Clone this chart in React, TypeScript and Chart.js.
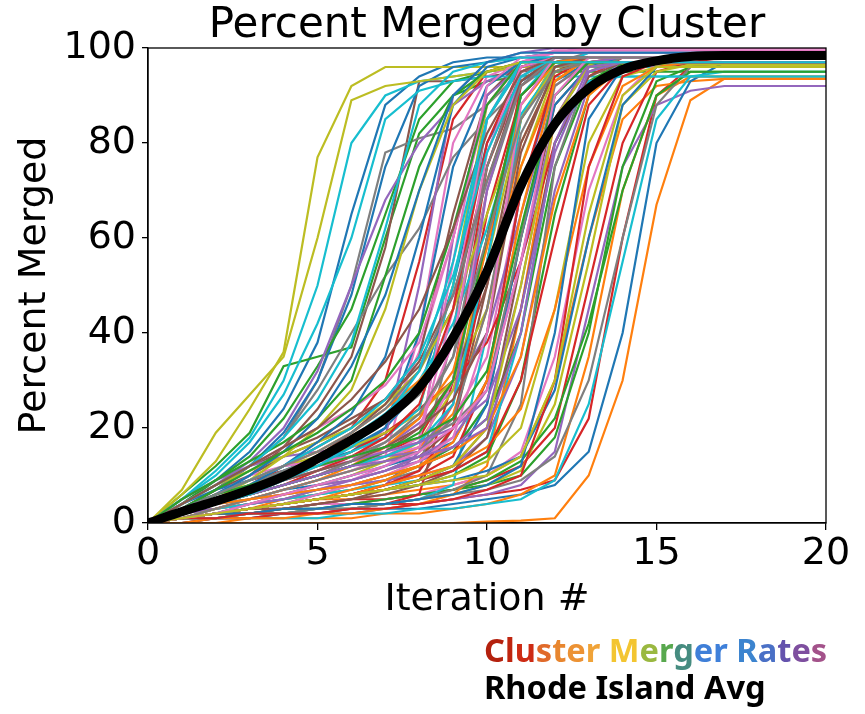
import React, { useEffect, useRef } from "react";
import { Chart, registerables } from "chart.js";

Chart.register(...registerables);

const TITLE = "Percent Merged by Cluster";
const X_LABEL = "Iteration #";
const Y_LABEL = "Percent Merged";
const ITERATIONS = [0, 1, 2, 3, 4, 5, 6, 7, 8, 9, 10, 11, 12, 13, 14, 15, 16, 17, 18, 19, 20];
const X_TICK_STEP = 5;
const Y_TICK_STEP = 20;

const TAB10 = ["#1f77b4", "#ff7f0e", "#2ca02c", "#d62728", "#9467bd", "#8c564b", "#e377c2", "#7f7f7f", "#bcbd22", "#17becf"];

const C01 = [0, 4, 9, 15, 24, 38, 65, 88, 94, 97, 98, 98, 99, 99, 99, 99, 99, 99, 99, 99, 99];
const C02 = [0, 0, 0, 0, 0, 0, 0, 0, 0, 0, 0.3, 0.5, 1, 10, 30, 67, 89, 93.5, 93.5, 93.5, 93.5];
const C03 = [0, 6, 12, 19, 33, 35, 37, 60, 82, 90, 93, 94, 95, 95, 95, 95, 95, 95, 95, 95, 95];
const C04 = [0, 1, 1, 2, 2, 3, 3, 4, 4, 5, 6, 7, 9, 22, 60, 90, 96, 97, 97, 97, 97];
const C05 = [0, 0, 1, 1, 2, 2, 3, 3, 4, 5, 6, 8, 15, 45, 75, 88, 91, 92, 92, 92, 92];
const C06 = [0, 3, 6, 10, 16, 24, 35, 58, 93, 93, 94, 95, 96, 97, 97, 97, 97, 97, 97, 97, 97];
const C07 = [0, 2, 4, 6, 8, 10, 13, 20, 36, 60, 90, 97, 98, 98, 98, 98, 98, 98, 98, 98, 98];
const C08 = [0, 3, 7, 12, 18, 30, 50, 78, 81, 83, 88, 95, 97, 99, 99, 99, 99, 99, 99, 99, 99];
const C09 = [0, 6, 13, 24, 36, 77, 92, 96, 96, 96, 96, 96, 97, 97, 97, 97, 97, 97, 97, 97, 97];
const C10 = [0, 5, 11, 18, 30, 50, 80, 90, 93, 94, 95, 96, 96, 96, 96, 96, 96, 96, 96, 96, 96];
const C11 = [0, 3, 7, 12, 19, 30, 48, 75, 92, 96, 97, 98, 99, 100, 100, 100, 100, 100, 100, 100, 100];
const C12 = [0, 1, 2, 3, 4, 5, 5, 6, 7, 8, 10, 14, 30, 60, 85, 92, 93, 93.5, 93.5, 93.5, 93.5];
const C13 = [0, 4, 9, 14, 22, 33, 45, 65, 85, 93, 95, 96, 97, 97, 97, 97, 97, 97, 97, 97, 97];
const C14 = [0, 3, 6, 9, 12, 16, 20, 30, 55, 85, 95, 97, 98, 98, 98, 98, 98, 98, 98, 98, 98];
const C15 = [0, 4, 8, 13, 20, 32, 50, 68, 80, 88, 93, 96, 97, 98, 98, 98, 98, 98, 98, 98, 98];
const C16 = [0, 4, 8, 12, 15, 18, 22, 26, 35, 65, 90, 97, 98, 98, 98, 98, 98, 98, 98, 98, 98];
const C17 = [0, 2, 4, 6, 8, 10, 12, 14, 40, 80, 94, 97, 99, 100, 100, 100, 100, 100, 100, 100, 100];
const C18 = [0, 3, 7, 12, 18, 28, 40, 52, 62, 77, 85, 92, 97, 98, 98, 98, 98, 98, 98, 98, 98];
const C19 = [0, 7, 19, 27, 35, 60, 89, 92, 93, 94, 95, 96, 96, 96.5, 96.5, 96.5, 96.5, 96.5, 96.5, 96.5, 96.5];
const C20 = [0, 5, 10, 17, 27, 42, 60, 85, 91, 93, 94, 94, 94, 94, 94, 94, 94, 94, 94, 94, 94];
const C21 = [0, 1, 1, 1, 2, 2, 2, 3, 3, 4, 5, 6, 8, 15, 40, 80, 93, 97, 97, 97, 97];
const C22 = [0, 0, 0, 1, 1, 1, 1, 2, 2, 3, 4, 6, 10, 35, 70, 90, 94, 94, 94, 94, 94];
const C23 = [0, 1, 1, 2, 3, 4, 4, 5, 6, 7, 8, 10, 18, 40, 75, 93, 96, 96, 96, 96, 96];
const C24 = [0, 1, 2, 3, 3, 4, 5, 5, 6, 7, 9, 12, 20, 50, 80, 95, 97, 98, 98, 98, 98];
const C25 = [0, 1, 2, 3, 4, 5, 6, 8, 15, 60, 90, 96, 98, 98, 98, 98, 98, 98, 98, 98, 98];
const C26 = [0, 3, 7, 10, 14, 17, 21, 26, 33, 45, 75, 93, 98, 98, 98, 98, 98, 98, 98, 98, 98];
const C27 = [0, 1, 2, 2, 3, 4, 4, 5, 6, 8, 10, 15, 35, 70, 90, 97, 98, 98, 98, 98, 98];
const C28 = [0, 1, 2, 2, 3, 3, 4, 4, 5, 6, 7, 9, 14, 30, 60, 88, 96, 97, 97, 97, 97];
const C29 = [0, 1, 1, 2, 2, 3, 3, 4, 5, 6, 8, 11, 25, 55, 88, 95, 96.5, 96.5, 96.5, 96.5, 96.5];
const C30 = [0, 0, 1, 1, 1, 1, 2, 2, 3, 3, 4, 5, 9, 25, 55, 85, 94, 95, 95, 95, 95];
const C31 = [0, 2, 5, 8, 10, 13, 16, 20, 28, 50, 80, 93, 97, 98, 98, 98, 98, 98, 98, 98, 98];
const C32 = [0, 1, 2, 3, 5, 6, 8, 10, 13, 25, 60, 90, 97, 98, 98, 98, 98, 98, 98, 98, 98];
const C33 = [0, 1, 2, 2, 3, 3, 4, 5, 6, 7, 9, 13, 22, 42, 70, 90, 95, 95, 95, 95, 95];
const C34 = [0, 0, 1, 1, 2, 2, 3, 4, 6, 30, 75, 95, 98, 98, 98, 98, 98, 98, 98, 98, 98];
const C35 = [0, 5, 9, 12, 14, 15, 16, 18, 50, 90, 97, 99, 100, 100, 100, 100, 100, 100, 100, 100, 100];
const C36 = [0, 2, 3, 5, 6, 8, 9, 11, 14, 20, 50, 85, 96, 98, 98, 98, 98, 98, 98, 98, 98];
const C37 = [0, 1, 3, 4, 6, 7, 9, 12, 16, 22, 35, 70, 92, 97, 97, 97, 97, 97, 97, 97, 97];
const C38 = [0, 3, 5, 7, 9, 11, 14, 17, 22, 35, 70, 92, 98, 98, 98, 98, 98, 98, 98, 98, 98];
const C39 = [0, 2, 4, 6, 9, 12, 15, 19, 24, 50, 88, 97, 97, 97, 97, 97, 97, 97, 97, 97, 97];
const C40 = [0, 1, 1, 2, 2, 3, 3, 4, 5, 8, 40, 85, 97, 98, 98, 98, 98, 98, 98, 98, 98];
const C41 = [0, 4, 7, 9, 11, 13, 15, 20, 40, 75, 92, 97, 98, 98, 98, 98, 98, 98, 98, 98, 98];
const C42 = [0, 2, 4, 5, 7, 9, 11, 13, 16, 23, 45, 80, 95, 98, 98, 98, 98, 98, 98, 98, 98];
const C43 = [0, 1, 2, 4, 5, 7, 8, 10, 12, 15, 25, 60, 90, 97, 97, 97, 97, 97, 97, 97, 97];
const C44 = [0, 3, 6, 9, 11, 13, 14, 15, 18, 30, 65, 90, 97, 98, 98, 98, 98, 98, 98, 98, 98];
const C45 = [0, 2, 4, 6, 8, 10, 13, 16, 21, 28, 40, 65, 90, 97, 98, 98, 98, 98, 98, 98, 98];
const C46 = [0, 1, 2, 2, 3, 4, 5, 7, 9, 12, 20, 55, 88, 96, 97, 97, 97, 97, 97, 97, 97];
const C47 = [0, 4, 8, 12, 16, 20, 24, 29, 38, 60, 88, 97, 99, 100, 100, 100, 100, 100, 100, 100, 100];
const C48 = [0, 2, 3, 4, 5, 6, 8, 9, 11, 40, 85, 96, 98, 98, 98, 98, 98, 98, 98, 98, 98];
const C49 = [0, 1, 3, 4, 6, 8, 10, 13, 17, 28, 55, 85, 97, 98, 98, 98, 98, 98, 98, 98, 98];
const C50 = [0, 3, 5, 8, 11, 14, 18, 23, 30, 42, 62, 86, 96, 99, 99, 99, 99, 99, 99, 99, 99];
const C51 = [0, 2, 4, 5, 7, 8, 10, 12, 14, 17, 30, 70, 93, 97, 98, 98, 98, 98, 98, 98, 98];
const C52 = [0, 0, 1, 1, 1, 2, 2, 3, 4, 6, 12, 45, 85, 97, 98, 98, 98, 98, 98, 98, 98];
const C53 = [0, 1, 2, 3, 4, 6, 7, 9, 12, 16, 22, 40, 75, 93, 97, 97, 97, 97, 97, 97, 97];
const C54 = [0, 3, 5, 7, 10, 12, 15, 19, 24, 30, 38, 55, 80, 94, 98, 98, 98, 98, 98, 98, 98];
const C55 = [0, 2, 3, 4, 6, 7, 8, 9, 10, 12, 18, 35, 70, 92, 97, 97, 97, 97, 97, 97, 97];
const C56 = [0, 2, 4, 6, 8, 10, 12, 15, 20, 30, 50, 80, 95, 98, 98, 98, 98, 98, 98, 98, 98];
const C57 = [0, 1, 3, 5, 7, 9, 11, 14, 18, 45, 85, 97, 99.5, 99.5, 99.5, 99.5, 99.5, 99.5, 99.5, 99.5, 99.5];
const C58 = [0, 2, 5, 8, 11, 14, 17, 21, 27, 38, 75, 95, 98, 98, 98, 98, 98, 98, 98, 98, 98];
const C59 = [0, 3, 6, 9, 12, 14, 16, 19, 23, 30, 45, 75, 95, 97, 97, 97, 97, 97, 97, 97, 97];
const C60 = [0, 2, 5, 7, 10, 12, 15, 18, 24, 50, 85, 96, 98, 98, 98, 98, 98, 98, 98, 98, 98];
const C61 = [0, 1, 2, 3, 4, 5, 6, 7, 9, 12, 25, 60, 88, 96, 98, 98, 98, 98, 98, 98, 98];
const C62 = [0, 2, 5, 8, 12, 15, 19, 24, 30, 38, 52, 75, 93, 98, 98, 98, 98, 98, 98, 98, 98];
const C63 = [0, 1, 2, 3, 4, 5, 6, 7, 8, 10, 14, 30, 65, 90, 97, 97, 97, 97, 97, 97, 97];
const C64 = [0, 1, 2, 3, 4, 5, 6, 8, 10, 14, 30, 70, 94, 98, 98, 98, 98, 98, 98, 98, 98];
const C65 = [0, 2, 3, 5, 6, 8, 9, 11, 13, 16, 22, 50, 85, 97, 98, 98, 98, 98, 98, 98, 98];
const C66 = [0, 1, 2, 3, 4, 5, 6, 7, 9, 20, 60, 90, 97, 98, 98, 98, 98, 98, 98, 98, 98];
const C67 = [0, 3, 6, 8, 10, 12, 13, 14, 16, 30, 70, 95, 98, 98, 98, 98, 98, 98, 98, 98, 98];
const C68 = [0, 1, 1, 2, 2, 3, 3, 4, 5, 7, 10, 25, 75, 95, 98, 98, 98, 98, 98, 98, 98];
const C69 = [0, 4, 8, 11, 14, 17, 20, 25, 32, 45, 65, 85, 96, 97, 97, 97, 97, 97, 97, 97, 97];
const C70 = [0, 1, 3, 4, 5, 6, 7, 8, 9, 11, 15, 40, 80, 93, 94, 94, 94, 94, 94, 94, 94];
const C71 = [0, 2, 5, 8, 12, 17, 23, 35, 60, 88, 96, 98, 98, 98, 98, 98, 98, 98, 98, 98, 98];
const C72 = [0, 1, 3, 5, 7, 9, 12, 16, 22, 32, 58, 88, 97, 98, 98, 98, 98, 98, 98, 98, 98];
const C73 = [0, 5, 9, 13, 17, 22, 30, 52, 75, 90, 95, 97, 97, 97, 97, 97, 97, 97, 97, 97, 97];
const C74 = [0, 1, 2, 3, 4, 5, 6, 8, 11, 20, 55, 92, 98, 98, 98, 98, 98, 98, 98, 98, 98];
const C75 = [0, 3, 6, 9, 12, 13, 14, 14, 15, 25, 70, 94, 98, 98, 98, 98, 98, 98, 98, 98, 98];
const C76 = [0, 2, 4, 7, 10, 14, 19, 25, 34, 48, 72, 93, 98, 98, 98, 98, 98, 98, 98, 98, 98];
const C77 = [0, 3, 6, 10, 12, 13, 14, 15, 17, 55, 92, 98, 99, 99, 99, 99, 99, 99, 99, 99, 99];
const C78 = [0, 2, 4, 6, 8, 10, 12, 14, 17, 21, 28, 60, 92, 97, 97, 97, 97, 97, 97, 97, 97];
const C79 = [0, 2, 5, 9, 14, 20, 28, 45, 70, 88, 95, 97, 97, 97, 97, 97, 97, 97, 97, 97, 97];
const C80 = [0, 4, 8, 12, 18, 26, 38, 62, 88, 95, 97, 98, 98, 98, 98, 98, 98, 98, 98, 98, 98];
const C81 = [0, 3, 6, 10, 15, 22, 33, 48, 70, 90, 97, 99, 99, 99, 99, 99, 99, 99, 99, 99, 99];
const C82 = [0, 1, 2, 3, 4, 5, 7, 9, 12, 17, 30, 65, 93, 98, 98, 98, 98, 98, 98, 98, 98];
const C83 = [0, 3, 7, 11, 15, 19, 24, 30, 40, 62, 88, 97, 97, 97, 97, 97, 97, 97, 97, 97, 97];
const C84 = [0, 2, 4, 6, 8, 11, 14, 18, 25, 45, 80, 96, 98, 98, 98, 98, 98, 98, 98, 98, 98];
const C85 = [0, 1, 2, 4, 5, 7, 9, 11, 14, 18, 28, 55, 85, 96, 97, 97, 97, 97, 97, 97, 97];
const C86 = [0, 1, 2, 3, 3, 4, 5, 6, 8, 11, 18, 45, 80, 94, 97, 97, 97, 97, 97, 97, 97];
const C87 = [0, 2, 4, 6, 9, 12, 14, 16, 20, 38, 78, 96, 98, 98, 98, 98, 98, 98, 98, 98, 98];
const C88 = [0, 1, 3, 5, 7, 9, 11, 13, 15, 22, 45, 82, 96, 97, 97, 97, 97, 97, 97, 97, 97];
const C89 = [0, 1, 2, 3, 4, 5, 6, 7, 8, 10, 13, 20, 45, 80, 94, 96, 96, 96, 96, 96, 96];
const C90 = [0, 2, 4, 6, 8, 10, 12, 14, 17, 25, 55, 90, 98, 98, 98, 98, 98, 98, 98, 98, 98];
const C91 = [0, 1, 2, 3, 4, 5, 6, 7, 8, 9, 11, 14, 28, 60, 88, 96, 97, 97, 97, 97, 97];
const C92 = [0, 1, 2, 3, 4, 5, 6, 8, 10, 12, 16, 24, 45, 75, 92, 96, 97, 97, 97, 97, 97];
const C93 = [0, 2, 4, 6, 8, 10, 12, 15, 19, 30, 60, 90, 97, 97, 97, 97, 97, 97, 97, 97, 97];
const C94 = [0, 1, 2, 3, 4, 5, 6, 7, 9, 11, 15, 30, 60, 88, 96, 97, 97, 97, 97, 97, 97];
const C95 = [0, 2, 5, 7, 9, 11, 13, 15, 17, 20, 26, 45, 78, 95, 97, 97, 97, 97, 97, 97, 97];
const C96 = [0, 3, 5, 7, 9, 11, 13, 16, 20, 26, 40, 78, 96, 98, 98, 98, 98, 98, 98, 98, 98];
const C97 = [0, 1, 2, 3, 4, 6, 8, 10, 13, 18, 40, 88, 98, 98, 98, 98, 98, 98, 98, 98, 98];
const C98 = [0, 2, 4, 6, 8, 10, 13, 17, 23, 35, 60, 85, 95, 97, 97, 97, 97, 97, 97, 97, 97];
const C99 = [0, 1, 2, 3, 4, 5, 6, 7, 9, 12, 20, 50, 85, 96, 97, 97, 97, 97, 97, 97, 97];
const C100 = [0, 3, 6, 9, 12, 16, 20, 26, 35, 52, 78, 94, 98, 98, 98, 98, 98, 98, 98, 98, 98];
const C101 = [0, 1, 2, 2, 3, 3, 4, 4, 5, 6, 8, 12, 40, 85, 96, 98, 98, 98, 98, 98, 98];
const C102 = [0, 2, 4, 5, 6, 7, 8, 10, 12, 15, 20, 35, 68, 90, 96, 97, 97, 97, 97, 97, 97];
const C103 = [0, 3, 6, 8, 10, 12, 14, 16, 18, 22, 32, 62, 90, 97, 97, 97, 97, 97, 97, 97, 97];
const C104 = [0, 1, 1, 2, 2, 2, 3, 3, 4, 5, 7, 10, 30, 75, 94, 97, 97, 97, 97, 97, 97];
const C105 = [0, 2, 4, 6, 8, 10, 12, 13, 14, 16, 20, 40, 80, 96, 97, 97, 97, 97, 97, 97, 97];
const C106 = [0, 4, 8, 12, 16, 20, 26, 34, 45, 62, 82, 95, 98, 98, 98, 98, 98, 98, 98, 98, 98];
const C107 = [0, 1, 2, 4, 6, 8, 10, 12, 15, 20, 28, 55, 90, 98, 98, 98, 98, 98, 98, 98, 98];
const C108 = [0, 3, 6, 9, 12, 15, 19, 24, 32, 48, 72, 92, 98, 98, 98, 98, 98, 98, 98, 98, 98];
const C109 = [0, 1, 2, 3, 4, 5, 6, 7, 8, 9, 10, 14, 30, 65, 90, 96, 96, 96, 96, 96, 96];
const C110 = [0, 2, 4, 6, 9, 12, 16, 22, 32, 55, 85, 97, 97, 97, 97, 97, 97, 97, 97, 97, 97];

const RI_AVG = [0, 2.4, 4.6, 7, 9.8, 13.5, 17.5, 22, 28.5, 39, 53, 71, 84, 91.5, 95.5, 97.3, 98.2, 98.4, 98.4, 98.4, 98.4];

const CLUSTERS = [
  C01, C02, C03, C04, C05, C06, C07, C08, C09, C10,
  C11, C12, C13, C14, C15, C16, C17, C18, C19, C20,
  C21, C22, C23, C24, C25, C26, C27, C28, C29, C30,
  C31, C32, C33, C34, C35, C36, C37, C38, C39, C40,
  C41, C42, C43, C44, C45, C46, C47, C48, C49, C50,
  C51, C52, C53, C54, C55, C56, C57, C58, C59, C60,
  C61, C62, C63, C64, C65, C66, C67, C68, C69, C70,
  C71, C72, C73, C74, C75, C76, C77, C78, C79, C80,
  C81, C82, C83, C84, C85, C86, C87, C88, C89, C90,
  C91, C92, C93, C94, C95, C96, C97, C98, C99, C100,
  C101, C102, C103, C104, C105, C106, C107, C108, C109, C110,
];

const LEGEND_TOP = [
  { ch: "C", color: "#b4210e" },
  { ch: "l", color: "#bf250f" },
  { ch: "u", color: "#cd2b14" },
  { ch: "s", color: "#e06a2a" },
  { ch: "t", color: "#e8862f" },
  { ch: "e", color: "#ec9234" },
  { ch: "r", color: "#f0a338" },
  { ch: " ", color: "#000000" },
  { ch: "M", color: "#f3c531" },
  { ch: "e", color: "#9ab840" },
  { ch: "r", color: "#58a84e" },
  { ch: "g", color: "#468c80" },
  { ch: "e", color: "#3f7fd8" },
  { ch: "r", color: "#3f80da" },
  { ch: " ", color: "#000000" },
  { ch: "R", color: "#3c84cf" },
  { ch: "a", color: "#4a70c6" },
  { ch: "t", color: "#6452ad" },
  { ch: "e", color: "#7e4f9f" },
  { ch: "s", color: "#a3528a" },
];
const LEGEND_BOTTOM = "Rhode Island Avg";

const FONT = "'DejaVu Sans', sans-serif";

const frameAndTitle = {
  id: "frameAndTitle",
  afterDraw(chart: any) {
    const { ctx, chartArea } = chart;
    ctx.save();
    ctx.strokeStyle = "#000";
    ctx.lineWidth = 1.3;
    ctx.strokeRect(chartArea.left, chartArea.top, chartArea.right - chartArea.left, chartArea.bottom - chartArea.top);
    ctx.fillStyle = "#000";
    ctx.font = "42px " + FONT;
    ctx.textAlign = "center";
    ctx.textBaseline = "alphabetic";
    ctx.fillText(TITLE, (chartArea.left + chartArea.right) / 2, chartArea.top - 11);
    ctx.restore();
  },
};

export default function App() {
  const ref = useRef<HTMLCanvasElement>(null);

  useEffect(() => {
    if (!ref.current) return;
    const datasets: any[] = CLUSTERS.map((d, i) => ({
      label: "Cluster " + (i + 1),
      data: d,
      borderColor: TAB10[i % 10],
      backgroundColor: TAB10[i % 10],
      borderWidth: 2.2,
      pointRadius: 0,
      tension: 0,
      fill: false,
      order: CLUSTERS.length - i + 1,
    }));
    datasets.push({
      label: LEGEND_BOTTOM,
      data: RI_AVG,
      borderColor: "#000",
      backgroundColor: "#000",
      borderWidth: 9,
      pointRadius: 0,
      cubicInterpolationMode: "monotone",
      fill: false,
      order: 0,
    });
    const chart = new Chart(ref.current, {
      type: "line",
      data: { labels: ITERATIONS, datasets },
      plugins: [frameAndTitle],
      options: {
        animation: false,
        responsive: false,
        devicePixelRatio: 1,
        layout: { padding: { left: 0, right: 39, top: 48, bottom: 91 } },
        plugins: {
          legend: { display: false },
          tooltip: { enabled: false },
          title: { display: false },
        },
        scales: {
          x: {
            type: "linear",
            min: 0,
            max: 20,
            ticks: { stepSize: X_TICK_STEP, color: "#000", font: { family: FONT, size: 38 }, padding: 1, maxRotation: 0 },
            grid: { drawOnChartArea: false, drawTicks: true, tickLength: 7, color: "#000", lineWidth: 1.3 },
            border: { display: true, color: "#000", width: 1.3 },
            title: { display: true, text: X_LABEL, color: "#000", font: { family: FONT, size: 38 }, padding: { top: 0, bottom: 0 } },
            afterFit: (s: any) => { s.height = 100; },
          },
          y: {
            type: "linear",
            min: 0,
            max: 100,
            ticks: { stepSize: Y_TICK_STEP, color: "#000", font: { family: FONT, size: 38 }, padding: 6 },
            grid: { drawOnChartArea: false, drawTicks: true, tickLength: 6, color: "#000", lineWidth: 1.3 },
            border: { display: true, color: "#000", width: 1.3 },
            title: { display: true, text: Y_LABEL, color: "#000", font: { family: FONT, size: 38 }, padding: { top: 12, bottom: 0 } },
            afterFit: (s: any) => { s.width = 148; },
          },
        },
      },
    });
    return () => chart.destroy();
  }, []);

  return (
    <div style={{ position: "absolute", left: 0, top: 0, width: 865, height: 714, background: "#fff", overflow: "hidden" }}>
      <canvas ref={ref} width={865} height={714} style={{ position: "absolute", left: 0, top: 0, width: 865, height: 714 }} />
      <div
        style={{
          position: "absolute",
          left: 484,
          top: 632,
          fontFamily: "'Noto Sans', sans-serif",
          fontWeight: 700,
          fontSize: 32.6,
          lineHeight: "36.5px",
          whiteSpace: "pre",
        }}
      >
        <div>
          {LEGEND_TOP.map((l, i) => (
            <span key={i} style={{ color: l.color }}>{l.ch}</span>
          ))}
        </div>
        <div style={{ color: "#000" }}>{LEGEND_BOTTOM}</div>
      </div>
    </div>
  );
}
